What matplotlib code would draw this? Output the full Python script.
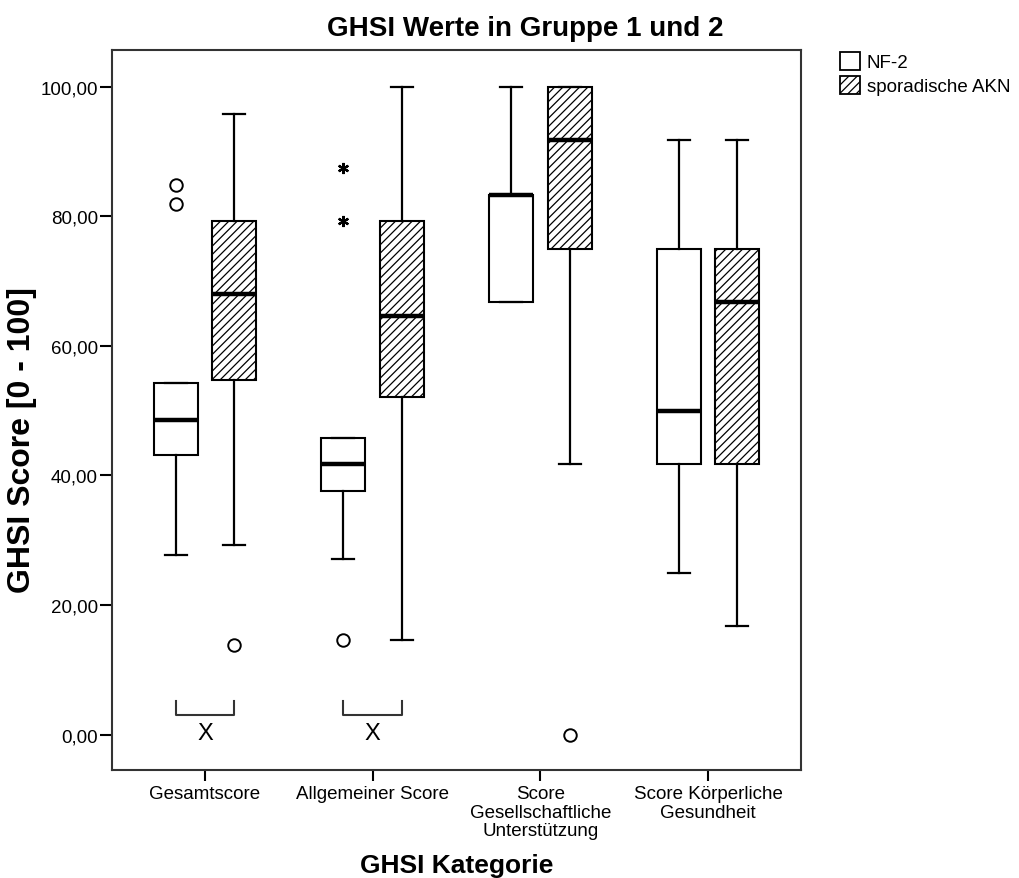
import matplotlib
matplotlib.use("Agg")
import matplotlib.pyplot as plt
from matplotlib.patches import Patch

plt.rcParams['font.family'] = ['Liberation Sans', 'DejaVu Sans']
plt.rcParams['hatch.linewidth'] = 0.9

# GHSI categories and group names
categories = ['Gesamtscore', 'Allgemeiner Score',
              'Score\nGesellschaftliche\nUnterstützung',
              'Score Körperliche\nGesundheit']
groups = ['NF-2', 'sporadische AKN']

# NF-2 box statistics
nf2_whislo = [27.8, 27.1, 66.7, 25.0]
nf2_q1 = [43.1, 37.6, 66.7, 41.7]
nf2_med = [48.6, 41.7, 83.3, 50.0]
nf2_q3 = [54.2, 45.8, 83.3, 75.0]
nf2_whishi = [54.2, 45.8, 100.0, 91.7]
nf2_outliers = [[84.8, 81.9], [14.6], [], []]
nf2_extremes = [[], [87.5, 79.2], [], []]

# sporadische AKN box statistics
akn_whislo = [29.2, 14.6, 41.7, 16.7]
akn_q1 = [54.8, 52.1, 75.0, 41.7]
akn_med = [68.0, 64.6, 91.7, 66.7]
akn_q3 = [79.2, 79.2, 100.0, 75.0]
akn_whishi = [95.8, 100.0, 100.0, 91.7]
akn_outliers = [[13.9], [], [0.0], []]
akn_extremes = [[], [], [], []]

yticks = [0, 20, 40, 60, 80, 100]
ytick_labels = ['0,00', '20,00', '40,00', '60,00', '80,00', '100,00']

# categories with a comparison marker below the boxes
marked = [0, 1]
bracket_top = 5.2
bracket_bottom = 3.1
marker_y = 0.2

fig = plt.figure(figsize=(10.19, 8.79), dpi=100)
ax = fig.add_axes([112 / 1019, 1 - 771 / 879, 689 / 1019, 720 / 879])

offset = 0.175
width = 0.264


def make_stats(lo, q1, med, q3, hi):
    return [dict(whislo=a, q1=b, med=c, q3=d, whishi=e, fliers=[])
            for a, b, c, d, e in zip(lo, q1, med, q3, hi)]


series = [
    (make_stats(nf2_whislo, nf2_q1, nf2_med, nf2_q3, nf2_whishi), -offset, None,
     nf2_outliers, nf2_extremes),
    (make_stats(akn_whislo, akn_q1, akn_med, akn_q3, akn_whishi), offset, '////',
     akn_outliers, akn_extremes),
]

for stats, off, hatch, outliers, extremes in series:
    pos = [i + off for i in range(len(categories))]
    bp = ax.bxp(stats, positions=pos, widths=width, capwidths=width / 2,
                patch_artist=True, showfliers=False,
                boxprops=dict(facecolor='white', edgecolor='black', linewidth=1.5),
                medianprops=dict(color='black', linewidth=3.2, solid_capstyle='butt'),
                whiskerprops=dict(color='black', linewidth=1.6),
                capprops=dict(color='black', linewidth=1.6))
    for box in bp['boxes']:
        if hatch:
            box.set_hatch(hatch)
    for p, vals in zip(pos, outliers):
        ax.plot([p] * len(vals), vals, 'o', ms=9, mfc='white', mec='black', mew=1.4)
    for p, vals in zip(pos, extremes):
        ax.plot([p] * len(vals), vals, marker=(6, 2, 0), ls='none', ms=8,
                mec='black', mew=1.6)

for i in marked:
    xs = [i - offset, i - offset, i + offset, i + offset]
    ax.plot(xs, [bracket_top, bracket_bottom, bracket_bottom, bracket_top],
            color='#333333', lw=1.5)
    ax.text(i, marker_y, 'X', ha='center', va='center', fontsize=17)

ax.set_xlim(-0.5547, 3.5547)
ax.set_ylim(-5.45, 105.66)
ax.set_xticks(range(len(categories)))
ax.set_xticklabels(categories, fontsize=13.5, linespacing=1.12)
ax.set_yticks(yticks)
ax.set_yticklabels(ytick_labels, fontsize=13.5)
ax.tick_params(axis='x', length=8, width=1.5, pad=3)
ax.tick_params(axis='y', length=9, width=1.5, pad=1)
for s in ax.spines.values():
    s.set_linewidth(1.5)
    s.set_color('#333333')

fig.text(525 / 1019, 1 - 36 / 879, 'GHSI Werte in Gruppe 1 und 2',
         ha='center', va='baseline', fontsize=20, fontweight='bold')
fig.text(457 / 1019, 1 - 873 / 879, 'GHSI Kategorie',
         ha='center', va='baseline', fontsize=19, fontweight='bold')
fig.text(22 / 1019, 1 - 440 / 879, 'GHSI Score [0 - 100]', rotation=90,
         ha='center', va='center', fontsize=23, fontweight='bold')

handles = [Patch(facecolor='white', edgecolor='black', linewidth=1.3, label=groups[0]),
           Patch(facecolor='white', edgecolor='black', linewidth=1.3, hatch='////',
                 label=groups[1])]
fig.legend(handles=handles, loc='upper left', bbox_to_anchor=(840 / 1019, 1 - 53 / 879),
           frameon=False, fontsize=13.5, handlelength=1.07, handleheight=1.07,
           labelspacing=0.27, handletextpad=0.37, borderpad=0, borderaxespad=0)

fig.savefig('out.png', dpi=100)
